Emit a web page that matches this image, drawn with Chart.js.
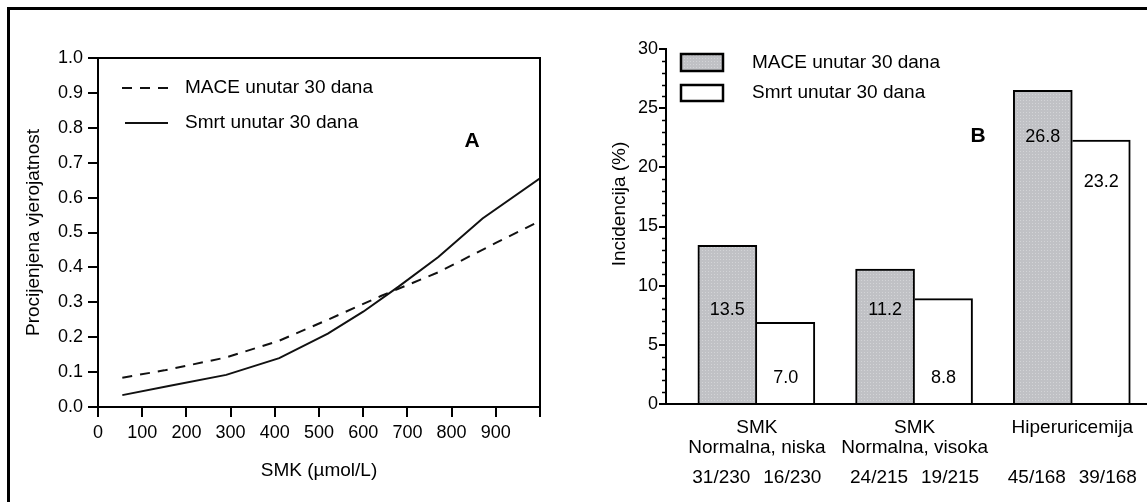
<!DOCTYPE html>
<html>
<head>
<meta charset="utf-8">
<script src="https://cdn.jsdelivr.net/npm/chart.js@4.4.1/dist/chart.umd.min.js"></script>
<style>
  html, body { margin: 0; padding: 0; background: #fff; }
  #page { position: relative; width: 1147px; height: 502px; overflow: hidden; }
  #frame { position: absolute; left: 7px; top: 7px; width: 1160px; height: 520px;
           border-left: 3px solid #000; border-top: 3px solid #000; }
  #chartA { position: absolute; left: 0; top: 0; }
  #chartB { position: absolute; left: 560px; top: 0; }
</style>
</head>
<body>
<div id="page">
  <div id="frame"></div>
  <canvas id="chartA" width="560" height="502"></canvas>
  <canvas id="chartB" width="587" height="502"></canvas>
</div>
<script>
// Panel A - estimated probability vs SMK
const maceX = [55, 150, 290, 410, 520, 640, 770, 900, 1000];
const maceP = [0.084, 0.105, 0.142, 0.19, 0.25, 0.318, 0.386, 0.47, 0.533];
const smrtX = [55, 160, 290, 410, 520, 600, 680, 770, 870, 1000];
const smrtP = [0.034, 0.06, 0.092, 0.14, 0.21, 0.273, 0.345, 0.43, 0.54, 0.655];

// Panel B - incidence (%)
const groupLabels = [["SMK", "Normalna, niska"], ["SMK", "Normalna, visoka"], ["Hiperuricemija"]];
const maceInc = [13.4, 11.4, 26.5];
const smrtInc = [6.9, 8.9, 22.3];
const maceText = ["13.5", "11.2", "26.8"];
const smrtText = ["7.0", "8.8", "23.2"];
const maceCounts = ["31/230", "24/215", "45/168"];
const smrtCounts = ["16/230", "19/215", "39/168"];

const FONT = '"Liberation Sans", Arial, Helvetica, sans-serif';
Chart.defaults.font.family = FONT;
Chart.defaults.color = '#000';
Chart.defaults.animation = false;

const toXY = (xs, ys) => xs.map((x, i) => ({ x: x, y: ys[i] }));

// legend + box + "A" for the line chart
const panelA = {
  id: 'panelA',
  afterDraw(chart) {
    const { ctx, chartArea: a } = chart;
    ctx.save();
    ctx.strokeStyle = '#000';
    ctx.lineWidth = 2;
    ctx.beginPath();
    ctx.moveTo(a.left, a.top);
    ctx.lineTo(a.right, a.top);
    ctx.lineTo(a.right, a.bottom);
    ctx.stroke();

    const rows = [88, 123];
    chart.data.datasets.forEach((ds, i) => {
      const y = rows[i];
      ctx.strokeStyle = ds.borderColor;
      ctx.lineWidth = 2;
      ctx.setLineDash(ds.borderDash || []);
      ctx.beginPath();
      ctx.moveTo(i === 0 ? 122 : 125, y);
      ctx.lineTo(168, y);
      ctx.stroke();
      ctx.setLineDash([]);
      ctx.fillStyle = '#000';
      ctx.font = '19px ' + FONT;
      ctx.textBaseline = 'middle';
      ctx.textAlign = 'left';
      ctx.fillText(ds.label, 185, y);
    });

    ctx.font = 'bold 21px ' + FONT;
    ctx.textAlign = 'center';
    ctx.fillText('A', 472, 141);
    ctx.restore();
  }
};

new Chart(document.getElementById('chartA'), {
  type: 'line',
  data: {
    datasets: [
      { label: 'MACE unutar 30 dana', data: toXY(maceX, maceP), borderColor: '#111',
        borderWidth: 2, borderDash: [10, 8], pointRadius: 0, tension: 0 },
      { label: 'Smrt unutar 30 dana', data: toXY(smrtX, smrtP), borderColor: '#111',
        borderWidth: 2, pointRadius: 0, tension: 0 }
    ]
  },
  options: {
    responsive: false,
    layout: { padding: { left: 0, top: 58, right: 20, bottom: 0 } },
    plugins: { legend: { display: false }, tooltip: { enabled: false } },
    scales: {
      x: {
        type: 'linear', min: 0, max: 1000,
        afterFit: s => { s.height = 95; },
        border: { color: '#000', width: 2 },
        grid: { drawOnChartArea: false, tickLength: 10, color: '#000', lineWidth: 2 },
        ticks: { stepSize: 100, padding: 5, font: { size: 18 }, maxRotation: 0,
                 callback: v => (v >= 1000 ? '' : String(v)) },
        title: { display: true, text: 'SMK (\u00b5mol/L)', font: { size: 19 },
                 padding: { top: 0, bottom: 20 } }
      },
      y: {
        min: 0, max: 1,
        afterFit: s => { s.width = 98; },
        border: { color: '#000', width: 2 },
        grid: { drawOnChartArea: false, tickLength: 10, color: '#000', lineWidth: 2 },
        ticks: { stepSize: 0.1, padding: 5, font: { size: 18 }, callback: v => v.toFixed(1) },
        title: { display: true, text: 'Procijenjena vjerojatnost', font: { size: 19 },
                 padding: { top: 22, bottom: 0 } }
      }
    }
  },
  plugins: [panelA]
});

// stippled grey fill like the printed bars
function stipple() {
  const c = document.createElement('canvas');
  c.width = 3; c.height = 3;
  const g = c.getContext('2d');
  g.fillStyle = '#c0c1c5';
  g.fillRect(0, 0, 3, 3);
  g.fillStyle = '#d3d4d7';
  g.fillRect(1, 1, 1, 1);
  return g.createPattern(c, 'repeat');
}
const grey = stipple();

const panelB = {
  id: 'panelB',
  afterDraw(chart) {
    const { ctx, chartArea: a } = chart;
    const xs = chart.scales.x, ys = chart.scales.y;
    ctx.save();

    // minor ticks on y axis
    ctx.strokeStyle = '#000';
    ctx.lineWidth = 1.5;
    for (let v = 1; v < 30; v++) {
      if (v % 5 === 0) continue;
      const y = Math.round(ys.getPixelForValue(v)) + 0.5;
      ctx.beginPath();
      ctx.moveTo(a.left - 4, y);
      ctx.lineTo(a.left, y);
      ctx.stroke();
    }

    // y title
    ctx.fillStyle = '#000';
    ctx.font = '19px ' + FONT;
    ctx.textAlign = 'center';
    ctx.textBaseline = 'middle';
    ctx.save();
    ctx.translate(60, 204);
    ctx.rotate(-Math.PI / 2);
    ctx.fillText('Incidencija (%)', 0, 0);
    ctx.restore();

    // value labels inside bars
    const levels = [[7.95, 7.95, 22.6], [2.2, 2.2, 18.8]];
    const texts = [maceText, smrtText];
    ctx.font = '18px ' + FONT;
    [0, 1].forEach(d => {
      chart.getDatasetMeta(d).data.forEach((bar, i) => {
        ctx.fillText(texts[d][i], bar.x, ys.getPixelForValue(levels[d][i]));
      });
    });

    // counts under categories
    ctx.font = '19px ' + FONT;
    maceCounts.forEach((t, i) => {
      ctx.fillText(t, xs.getPixelForValue(i + 1 - 0.225), 478);
      ctx.fillText(smrtCounts[i], xs.getPixelForValue(i + 1 + 0.225), 478);
    });

    // legend
    const rows = [[54, 17], [85, 16]];
    chart.data.datasets.forEach((ds, i) => {
      const [y, h] = rows[i];
      ctx.fillStyle = ds.backgroundColor;
      ctx.fillRect(121, y, 42, h);
      ctx.strokeStyle = '#000';
      ctx.lineWidth = 2.5;
      ctx.strokeRect(121, y, 42, h);
      ctx.fillStyle = '#000';
      ctx.font = '19px ' + FONT;
      ctx.textAlign = 'left';
      ctx.fillText(ds.label, 192, y + h / 2);
    });

    ctx.font = 'bold 21px ' + FONT;
    ctx.textAlign = 'center';
    ctx.fillText('B', 418, 136);
    ctx.restore();
  }
};

new Chart(document.getElementById('chartB'), {
  type: 'bar',
  data: {
    datasets: [
      { label: 'MACE unutar 30 dana', data: maceInc.map((v, i) => ({ x: i + 1, y: v })),
        backgroundColor: grey, borderColor: '#000',
        borderWidth: { left: 2, top: 2, right: 2, bottom: 0 }, borderSkipped: false, barThickness: 59 },
      { label: 'Smrt unutar 30 dana', data: smrtInc.map((v, i) => ({ x: i + 1, y: v })),
        backgroundColor: '#fff', borderColor: '#000',
        borderWidth: { left: 0, top: 2, right: 2, bottom: 0 }, borderSkipped: false, barThickness: 58 }
    ]
  },
  options: {
    responsive: false,
    layout: { padding: { left: 0, top: 49, right: 0, bottom: 0 } },
    plugins: { legend: { display: false }, tooltip: { enabled: false } },
    scales: {
      x: {
        type: 'linear', min: 0.424, max: 3.468, offset: false,
        afterFit: s => { s.height = 98; },
        afterBuildTicks: s => { s.ticks = groupLabels.map((_, i) => ({ value: i + 1 })); },
        border: { color: '#000', width: 2 },
        grid: { offset: false, drawOnChartArea: false, drawTicks: false, tickLength: 0 },
        ticks: { autoSkip: false, maxRotation: 0, padding: 14,
                 font: { size: 19, lineHeight: 1.05 },
                 callback: (v, i) => groupLabels[i] }
      },
      y: {
        min: 0, max: 30,
        afterFit: s => { s.width = 106; },
        border: { color: '#000', width: 2 },
        grid: { drawOnChartArea: false, tickLength: 7, color: '#000', lineWidth: 2 },
        ticks: { stepSize: 5, padding: 1, font: { size: 18 } }
      }
    }
  },
  plugins: [panelB]
});
</script>
</body>
</html>
